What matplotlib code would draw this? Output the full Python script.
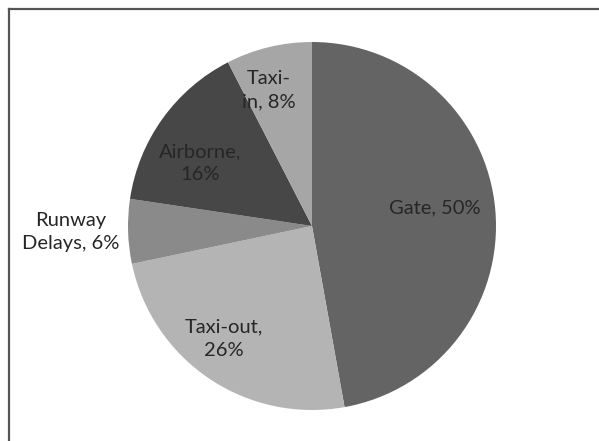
import matplotlib
matplotlib.use("Agg")
import matplotlib.pyplot as plt
from matplotlib.lines import Line2D

categories = ["Gate", "Taxi-out", "Runway\nDelays", "Airborne", "Taxi-\nin"]
values = [50, 26, 6, 16, 8]
colors = ["#646464", "#b4b4b4", "#8a8a8a", "#474747", "#a6a6a6"]

W, H = 599, 441
fig = plt.figure(figsize=(W / 100, H / 100), dpi=100)
fig.patch.set_facecolor("white")

cx, cy, R = 312, 226, 184
ax = fig.add_axes([(cx - R) / W, (H - cy - R) / H, 2 * R / W, 2 * R / H])
ax.pie(values, colors=colors, startangle=90, counterclock=False,
       wedgeprops=dict(linewidth=0))
ax.set_xlim(-1, 1)
ax.set_ylim(-1, 1)
ax.set_aspect("equal")
ax.axis("off")

label_pos = [(0.668, 0.098), (-0.478, -0.614), (-1.31, -0.033), (-0.609, 0.342), (-0.234, 0.739)]
for cat, v, (x, y) in zip(categories, values, label_pos):
    if cat.startswith("Gate") or "\n" in cat:
        txt = f"{cat}, {v}%"
    else:
        txt = f"{cat},\n{v}%"
    ax.text(x, y, txt, ha="center", va="center", fontsize=14.5,
            family="Lato", color="#262626", linespacing=1.45, clip_on=False)

fig.add_artist(Line2D([8.5 / W, 8.5 / W], [0, 1 - 8.5 / H], transform=fig.transFigure,
                      color="#555555", linewidth=1.6))
fig.add_artist(Line2D([8.5 / W, 1], [1 - 8.5 / H, 1 - 8.5 / H], transform=fig.transFigure,
                      color="#555555", linewidth=1.6))

fig.savefig("out.png", dpi=100, facecolor="white")
